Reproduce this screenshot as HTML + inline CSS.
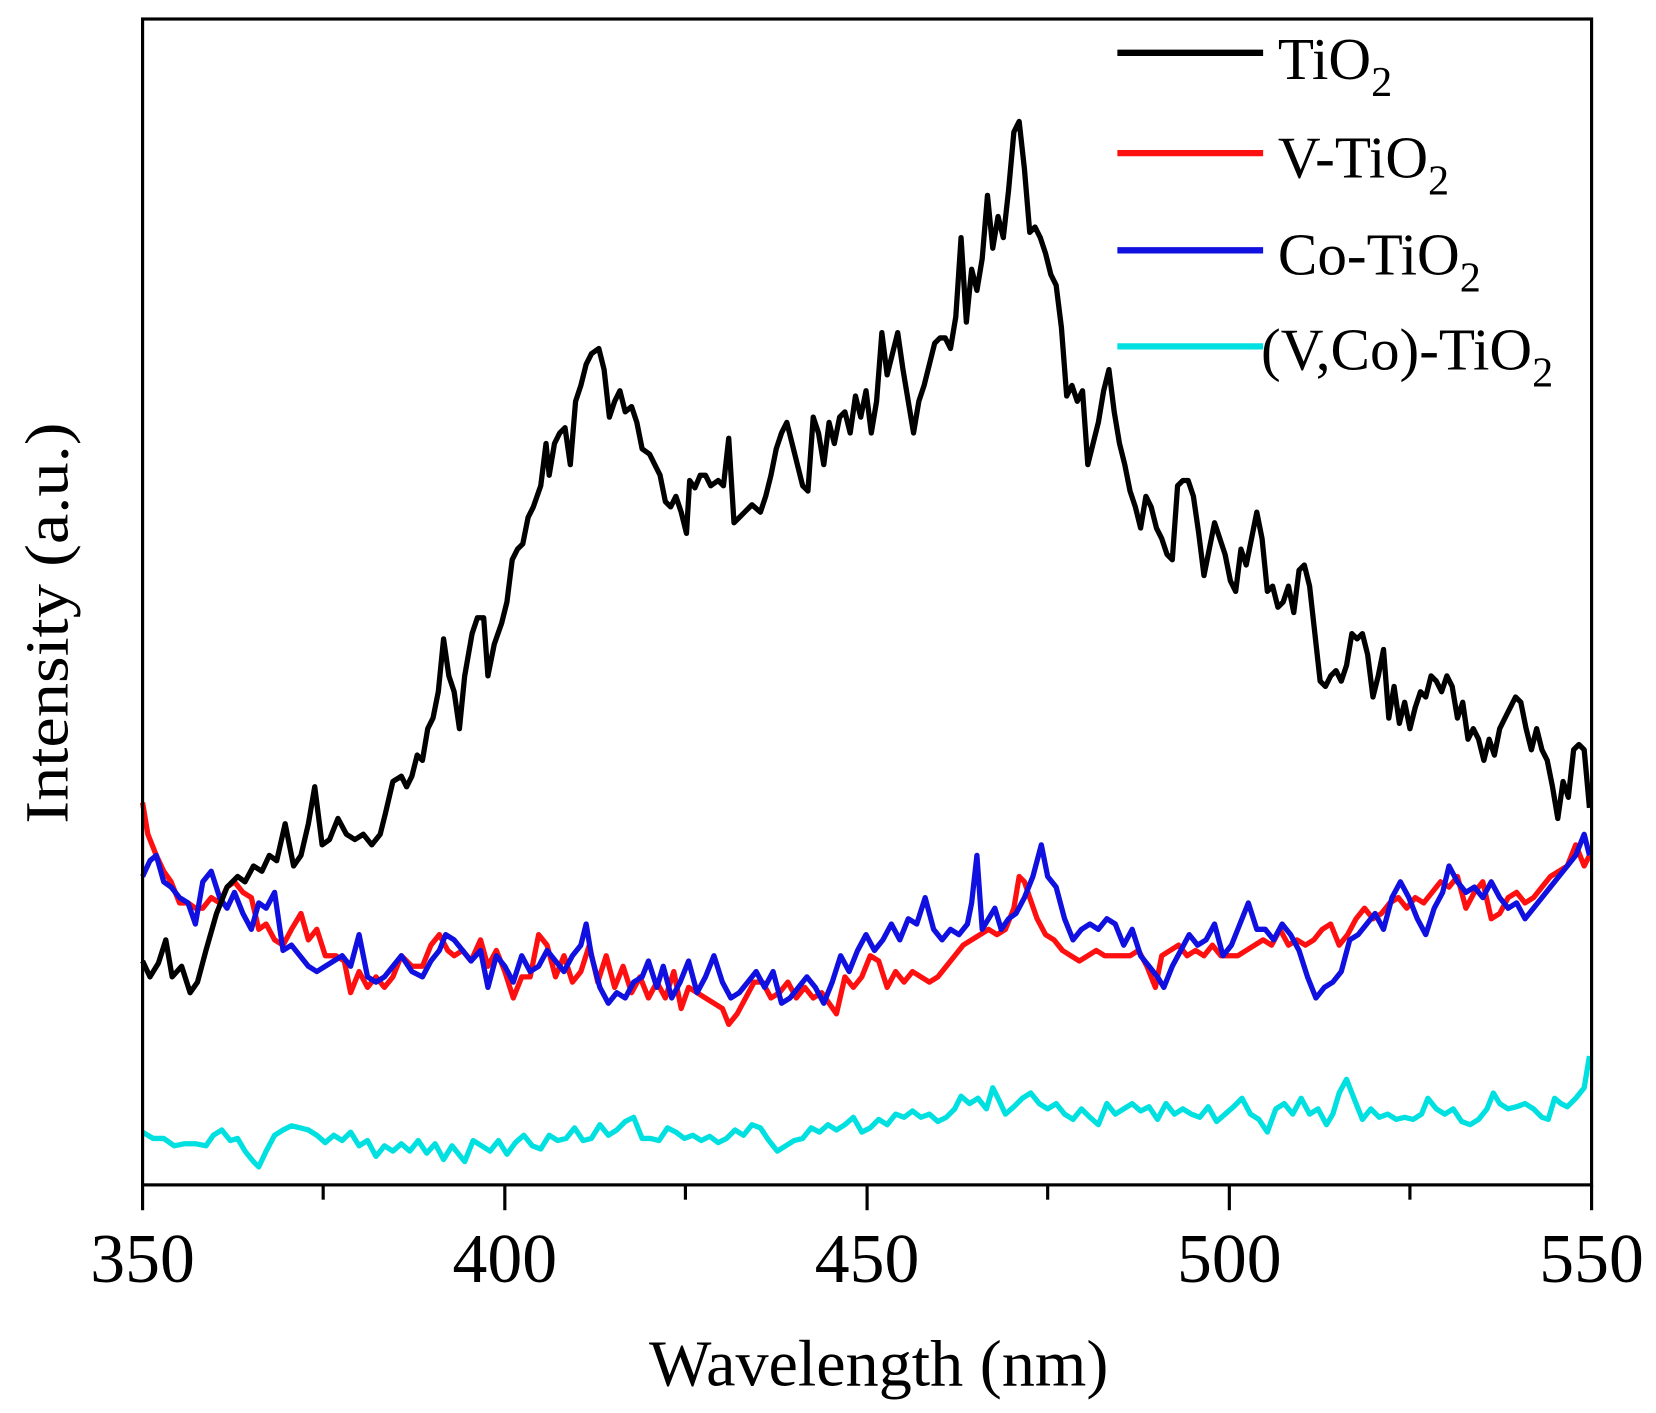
<!DOCTYPE html>
<html><head><meta charset="utf-8"><style>html,body{margin:0;padding:0;background:#fff}svg{display:block}</style></head>
<body>
<svg width="1656" height="1413" viewBox="0 0 1568 1338" preserveAspectRatio="none" xmlns="http://www.w3.org/2000/svg" font-family="'Liberation Serif', serif">
<rect width="1568" height="1338" fill="#fff"/>
<g fill="none" stroke-width="5" stroke-linejoin="round">
<polyline stroke="#00e0e0" points="135,1072 145,1078 155,1078 165,1085 175,1083 185,1083 195,1085 202,1075 210,1070 218,1080 225,1078 232,1090 240,1100 245,1105 252,1090 260,1075 268,1070 276,1066 284,1068 292,1070 300,1075 308,1082 316,1075 324,1080 332,1072 340,1085 348,1080 356,1095 364,1085 372,1090 380,1083 388,1090 396,1080 404,1092 412,1083 420,1098 428,1085 436,1095 440,1100 448,1080 456,1085 464,1090 472,1080 480,1093 488,1082 496,1075 504,1085 512,1088 520,1075 528,1080 536,1078 544,1068 552,1080 560,1078 568,1065 576,1075 584,1070 592,1062 600,1058 608,1078 616,1078 624,1080 632,1068 640,1072 648,1078 656,1075 664,1080 672,1076 680,1082 688,1078 696,1070 704,1075 712,1065 720,1068 728,1080 736,1090 744,1085 752,1080 760,1078 768,1068 776,1072 784,1065 792,1070 800,1065 808,1058 816,1072 824,1068 832,1060 840,1065 848,1055 856,1058 864,1052 872,1058 880,1055 888,1062 896,1058 904,1050 910,1038 918,1045 926,1040 934,1050 940,1030 946,1042 952,1055 960,1048 968,1040 976,1035 984,1045 992,1050 1000,1045 1008,1055 1016,1060 1024,1050 1032,1058 1040,1065 1048,1045 1056,1055 1064,1050 1072,1045 1080,1052 1088,1048 1096,1060 1104,1045 1112,1055 1120,1050 1128,1055 1136,1058 1144,1048 1152,1062 1160,1055 1168,1048 1176,1040 1184,1055 1192,1060 1200,1072 1208,1050 1216,1045 1224,1055 1232,1040 1240,1055 1248,1050 1256,1065 1262,1055 1268,1035 1275,1022 1282,1040 1290,1060 1298,1050 1306,1058 1314,1055 1322,1060 1330,1058 1338,1060 1346,1055 1352,1040 1360,1050 1368,1055 1376,1050 1384,1062 1392,1065 1400,1060 1408,1050 1414,1035 1420,1045 1428,1050 1436,1048 1444,1045 1452,1050 1460,1058 1466,1060 1472,1040 1478,1045 1484,1048 1492,1040 1500,1030 1505,1000"/>
<polyline stroke="#ff1010" points="135,760 140,790 148,810 155,825 162,835 170,855 178,855 185,860 192,860 200,850 208,855 215,840 222,835 230,845 238,850 245,880 252,875 260,890 268,895 276,880 285,865 292,890 300,880 308,905 318,905 326,910 332,940 340,920 348,935 356,925 364,935 372,925 380,905 390,915 400,915 408,895 416,885 424,900 430,905 438,900 446,910 455,890 462,915 470,900 478,920 486,945 494,925 502,925 510,885 518,895 526,925 534,905 542,930 550,920 558,895 566,930 574,905 582,935 590,915 598,940 606,925 614,945 622,930 630,945 638,920 645,955 652,935 660,940 668,945 676,950 684,955 690,970 698,960 706,945 714,930 722,930 730,945 738,940 746,930 754,945 762,935 770,945 778,940 785,950 792,960 800,925 808,935 816,925 824,905 832,910 840,935 848,920 856,930 864,920 872,925 880,930 888,925 896,915 904,905 912,895 920,890 928,885 936,880 944,885 952,880 960,860 965,830 970,835 975,850 982,870 990,885 998,890 1006,900 1014,905 1022,910 1030,905 1038,900 1046,905 1054,905 1062,905 1070,905 1078,900 1086,915 1094,935 1100,905 1108,900 1116,895 1124,905 1132,900 1140,905 1148,895 1156,905 1164,905 1172,905 1180,900 1188,895 1196,890 1204,895 1212,880 1220,895 1228,890 1236,895 1244,890 1252,880 1260,875 1268,895 1276,885 1284,870 1292,860 1300,870 1308,865 1316,855 1324,850 1332,860 1340,850 1348,855 1356,845 1364,835 1372,840 1380,830 1388,860 1396,845 1404,835 1412,870 1420,865 1428,850 1436,845 1444,855 1452,850 1460,840 1468,830 1476,825 1484,820 1492,800 1500,820 1505,810"/>
<polyline stroke="#1010e0" points="135,830 142,815 148,810 155,835 162,840 170,850 178,855 185,875 192,835 200,825 208,850 215,860 222,845 230,865 238,880 245,855 252,860 260,845 268,900 276,895 284,905 292,915 300,920 308,915 316,910 324,905 332,915 340,885 348,925 356,930 364,925 372,915 380,905 390,920 400,925 408,910 416,900 422,885 430,890 438,900 446,910 455,900 462,935 470,905 478,915 486,930 494,905 502,920 510,915 518,900 526,910 534,920 542,905 550,895 555,875 560,905 568,935 576,950 584,940 592,945 600,930 608,925 614,910 622,935 628,915 636,945 644,930 652,910 660,940 668,925 676,905 684,930 692,945 700,940 708,930 716,920 724,935 732,920 740,950 748,945 756,935 764,925 772,935 780,950 788,930 796,905 804,920 812,900 820,885 828,900 836,890 844,875 852,890 860,870 868,875 876,850 884,880 892,890 900,880 908,885 916,875 920,855 925,810 930,880 936,870 942,860 948,880 955,870 962,865 970,850 978,830 986,800 992,830 1000,840 1008,870 1016,890 1024,880 1032,875 1040,880 1048,870 1056,875 1064,895 1072,880 1080,905 1088,915 1096,925 1102,935 1110,915 1118,900 1126,885 1134,895 1142,890 1150,875 1158,905 1166,895 1174,875 1182,855 1190,880 1198,880 1206,890 1214,875 1222,885 1230,900 1238,925 1246,945 1254,935 1262,930 1270,920 1278,890 1286,885 1294,875 1302,865 1310,880 1318,850 1326,835 1334,850 1342,870 1350,885 1358,860 1366,845 1372,820 1380,835 1388,845 1396,840 1404,850 1412,835 1420,850 1428,860 1436,855 1444,870 1452,860 1460,850 1468,840 1476,830 1484,820 1492,810 1500,790 1505,810"/>
<polyline stroke="#000" points="135,910 142,925 150,912 157,890 163,925 172,915 180,940 187,930 195,900 205,865 215,840 225,830 232,835 240,820 248,825 255,810 262,815 270,780 278,820 285,810 292,780 298,745 305,800 312,795 320,775 328,790 336,795 344,790 352,800 360,790 365,770 372,740 380,735 385,745 390,735 395,715 400,720 405,690 410,680 415,655 420,605 425,640 430,655 435,690 440,640 447,600 452,585 458,585 462,640 468,610 475,590 480,570 485,530 490,520 495,515 500,490 505,480 512,460 517,420 520,450 525,420 530,410 535,405 540,440 545,380 550,365 555,345 560,335 567,330 572,350 577,395 582,380 587,370 592,390 598,385 603,400 608,425 615,430 620,440 625,450 630,475 635,480 640,470 645,485 650,505 653,455 658,462 663,450 668,450 673,460 680,455 685,460 690,415 695,495 700,490 705,485 712,478 720,485 725,470 730,450 735,425 740,410 745,400 750,420 755,440 760,460 765,465 770,395 775,410 780,440 785,400 790,420 795,395 800,390 805,410 810,375 815,395 820,370 825,410 830,380 835,315 840,355 845,335 850,315 855,350 860,380 865,410 870,380 875,365 880,345 885,325 890,320 895,320 900,330 905,300 910,225 915,305 920,255 925,275 930,245 935,185 940,235 945,205 950,225 955,180 960,125 965,115 970,160 975,220 980,215 985,225 990,240 995,260 1000,270 1005,310 1010,375 1015,365 1020,380 1025,370 1030,440 1035,420 1040,400 1045,370 1050,350 1055,390 1060,420 1065,440 1070,465 1075,480 1080,500 1085,470 1090,480 1095,500 1100,510 1105,525 1110,530 1115,460 1120,455 1125,455 1130,470 1135,505 1140,545 1145,520 1150,495 1155,510 1160,525 1165,550 1170,560 1175,520 1180,535 1185,510 1190,485 1195,510 1200,560 1205,555 1210,575 1215,570 1220,555 1225,580 1230,540 1235,535 1240,555 1245,600 1250,645 1255,650 1260,640 1265,635 1270,645 1275,630 1280,600 1285,605 1290,600 1295,620 1300,660 1305,640 1310,615 1315,680 1320,650 1325,685 1330,665 1335,690 1340,670 1345,655 1350,660 1355,640 1360,645 1365,655 1370,640 1375,650 1380,680 1385,665 1390,700 1395,690 1400,700 1405,720 1410,700 1415,715 1420,690 1425,680 1430,670 1435,660 1440,665 1445,690 1450,710 1455,690 1460,710 1465,720 1470,745 1475,775 1480,740 1485,755 1490,710 1495,705 1500,710 1505,765"/>
</g>
<rect x="135" y="18" width="1372" height="1104" fill="none" stroke="#000" stroke-width="3"/>
<g stroke="#000" stroke-width="3">
<line x1="135" y1="1122" x2="135" y2="1146"/><line x1="478" y1="1122" x2="478" y2="1146"/><line x1="821" y1="1122" x2="821" y2="1146"/><line x1="1164" y1="1122" x2="1164" y2="1146"/><line x1="1507" y1="1122" x2="1507" y2="1146"/>
<line x1="306" y1="1122" x2="306" y2="1136"/><line x1="649" y1="1122" x2="649" y2="1136"/><line x1="992" y1="1122" x2="992" y2="1136"/><line x1="1335" y1="1122" x2="1335" y2="1136"/>
</g>
<g font-size="66" text-anchor="middle" fill="#000">
<text x="135" y="1214">350</text><text x="478" y="1214">400</text><text x="821" y="1214">450</text><text x="1164" y="1214">500</text><text x="1507" y="1214">550</text>
</g>
<text x="832" y="1312" font-size="62" text-anchor="middle" textLength="435" lengthAdjust="spacingAndGlyphs">Wavelength (nm)</text>
<text transform="translate(64,590) rotate(-90)" font-size="58" text-anchor="middle" textLength="380" lengthAdjust="spacingAndGlyphs">Intensity (a.u.)</text>
<g stroke-width="6">
<line x1="1058" y1="50" x2="1196" y2="50" stroke="#000"/>
<line x1="1058" y1="145" x2="1196" y2="145" stroke="#ff1010"/>
<line x1="1058" y1="237" x2="1196" y2="237" stroke="#1010e0"/>
<line x1="1058" y1="328" x2="1196" y2="328" stroke="#00e0e0"/>
</g>
<g font-size="56" fill="#000">
<text x="1210" y="75">TiO<tspan font-size="40" dy="16">2</tspan></text>
<text x="1210" y="168">V-TiO<tspan font-size="40" dy="16">2</tspan></text>
<text x="1210" y="260">Co-TiO<tspan font-size="40" dy="16">2</tspan></text>
<text x="1194" y="350">(V,Co)-TiO<tspan font-size="40" dy="16">2</tspan></text>
</g>
</svg>
</body></html>
